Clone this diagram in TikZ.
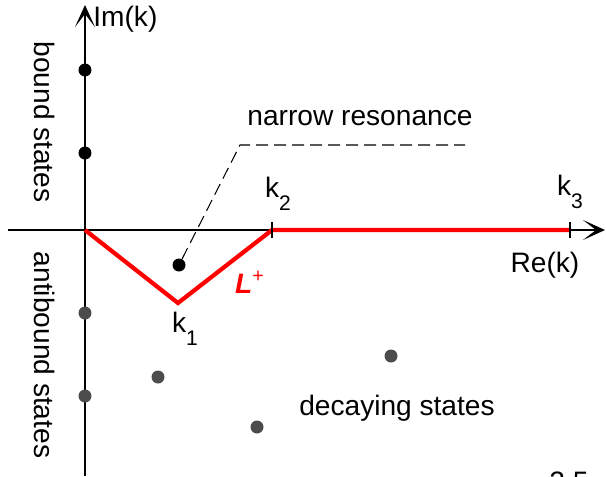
\documentclass[tikz,border=0pt]{standalone}
\usepackage{fontspec}
\setmainfont{Liberation Sans}
\usetikzlibrary{arrows.meta}

\newcommand{\ksub}[1]{k\raisebox{-0.45em}{\fontsize{12}{12}\selectfont #1}}

\begin{document}
\begin{tikzpicture}[>={Stealth[length=4.4mm, width=4mm, inset=2.6mm]},
		font=\fontsize{16}{19}\selectfont,
		dot/.style={circle, fill=black, inner sep=0pt, minimum size=0.26cm},
		graydot/.style={dot, fill=black!70},
		contour/.style={red, line width=2.4pt},
		leader/.style={line width=0.6pt, dash pattern=on 0.24cm off 0.12cm}]
		\useasboundingbox (-1.7,-4.92) rectangle (10.42,4.6);
		% axes
		\coordinate (O) at (0,0);
		\draw[->, line width=1.1pt] (-1.54,0) -- (10.40,0);
		\draw[->, line width=1.1pt] (0,-4.92) -- (0,4.50);
		\node[anchor=west, inner sep=0pt] (im) at (0.16,4.22) {Im(k)};
		\node (re) at (9.20,-0.70) {Re(k)};
		% contour
		\coordinate (k1) at (1.86,-1.46);
		\coordinate (k2) at (3.74,0);
		\coordinate (k3) at (9.70,0);
		\draw[contour] (O) -- (k1) -- (k2) -- (k3);
		\draw[line width=0.6pt] (k2) ++(0,-0.15) -- ++(0,0.32);
		\draw[line width=0.6pt] (k3) ++(0,-0.15) -- ++(0,0.32);
		\node (k1lab) at (2.0,-1.98) {\ksub{1}};
		\node (k2lab) at (3.86,0.72) {\ksub{2}};
		\node (k3lab) at (9.70,0.76) {\ksub{3}};
		\node[red] (lplus) at (3.30,-1.04) {\textbf{\textit{L}}\textsuperscript{+}};
		% states
		\node[dot] (b1) at (0,3.20) {};
		\node[dot] (b2) at (0,1.54) {};
		\node[graydot] (a1) at (0,-1.66) {};
		\node[graydot] (a2) at (0,-3.32) {};
		\node[graydot] (d1) at (1.46,-2.94) {};
		\node[graydot] (d2) at (6.12,-2.52) {};
		\node[graydot] (d3) at (3.44,-3.94) {};
		\node[dot] (res) at (1.88,-0.70) {};
		\node[rotate=-90] (bound) at (-0.80,2.16) {bound states};
		\node[rotate=-90] (antibound) at (-0.80,-2.50) {antibound states};
		\node (decay) at (6.24,-3.56) {decaying states};
		\node (narrow) at (5.50,2.24) {narrow resonance};
		\node[anchor=north] (cut) at (9.68,-4.72) {2.5};
		% leader to the resonance
		\coordinate (bend) at (3.10,1.70);
		\coordinate (lend) at (7.60,1.70);
		\draw[leader] (res) -- (bend) -- (lend);
	\end{tikzpicture}
\end{document}
